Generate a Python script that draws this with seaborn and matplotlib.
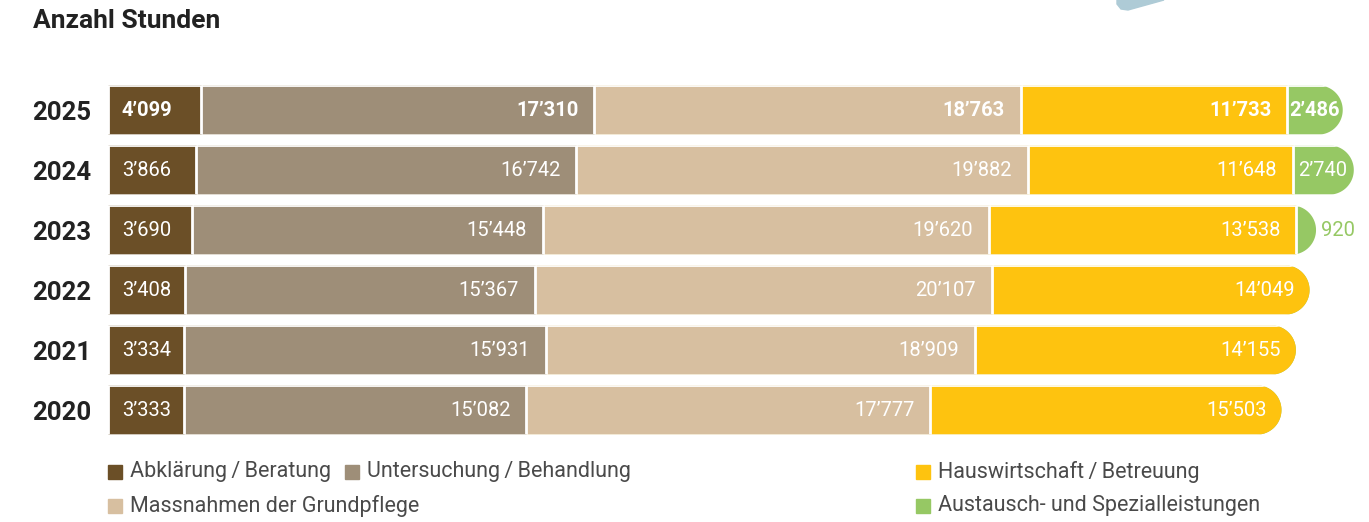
import numpy as np
import pandas as pd
import matplotlib
matplotlib.use("Agg")
import matplotlib.pyplot as plt
from matplotlib.patches import Polygon, Rectangle
import seaborn as sns

# data
years = ["2025", "2024", "2023", "2022", "2021", "2020"]
abklaerung = [4099, 3866, 3690, 3408, 3334, 3333]
untersuchung = [17310, 16742, 15448, 15367, 15931, 15082]
grundpflege = [18763, 19882, 19620, 20107, 18909, 17777]
hauswirtschaft = [11733, 11648, 13538, 14049, 14155, 15503]
austausch = [2486, 2740, 920, 0, 0, 0]
categories = ["Abklärung\u2009/\u2009Beratung", "Untersuchung\u2009/\u2009Behandlung",
              "Massnahmen der Grundpflege", "Hauswirtschaft\u2009/\u2009Betreuung",
              "Austausch- und Spezialleistungen"]
colors = ["#6b4f27", "#9e8e78", "#d7bfa0", "#fec30f", "#96c864"]

sns.set_theme(style="white")
plt.rcParams["font.family"] = ["Roboto", "DejaVu Sans"]

W, H = 1369, 522
AX_RIGHT = 1355
fig = plt.figure(figsize=(W / 100, H / 100), dpi=100)
ax = fig.add_axes([108 / W, (H - 440) / H, (AX_RIGHT - 108) / W, 360 / H])

segs = np.array([abklaerung, untersuchung, grundpflege, hauswirtschaft, austausch])
cum = segs.cumsum(axis=0)
xmax = cum[-1].max()

# stacked bars: draw cumulative totals from the outermost layer inwards
for k in range(len(segs) - 1, -1, -1):
    df = pd.DataFrame({"year": years, "value": cum[k]})
    sns.barplot(data=df, x="value", y="year", order=years, orient="h",
                color=colors[k], saturation=1, width=0.82,
                edgecolor="white", linewidth=2, ax=ax)

ax.set_xlim(0, xmax)
ax.set_ylim(5.5, -0.5)

# rounded right end of every bar via clip path
px = xmax / (AX_RIGHT - 108)          # data units per pixel
h = 0.41
r_x = 24.5 * px
t = np.linspace(-np.pi / 2, np.pi / 2, 40)
clips = []
for i in range(len(years)):
    total = cum[-1][i]
    cx = total - r_x - 1.2 * px
    pts = [(-xmax, i - h), (cx, i - h)]
    pts += list(zip(cx + r_x * np.cos(t), i + h * np.sin(t)))
    pts += [(-xmax, i + h)]
    clips.append(Polygon(pts, closed=True, transform=ax.transData))
for p in ax.patches:
    row = int(round(p.get_y() + p.get_height() / 2))
    p.set_clip_path(clips[row])

# value labels
def fmt(v):
    return f"{v:,}".replace(",", "\u2019")

for i in range(len(years)):
    weight = "bold" if i == 0 else "normal"
    nonzero = [k for k in range(len(segs)) if segs[k][i] > 0]
    last = nonzero[-1]
    for k in nonzero:
        v = segs[k][i]
        right = cum[k][i]
        left = right - v
        kw = dict(va="center", fontsize=14.5, fontweight=weight, color="white",
                  textcoords="offset points", annotation_clip=False)
        if k == 0:
            ax.annotate(fmt(v), xy=(left, i), xytext=(10, 0), ha="left", **kw)
        elif k == last and k == 4:
            if v / px > 45:
                ax.annotate(fmt(v), xy=((left + right) / 2, i), xytext=(-1, 0),
                            ha="center", **kw)
            else:
                kw["color"] = colors[k]
                ax.annotate(fmt(v), xy=(right, i), xytext=(3, 0), ha="left", **kw)
        else:
            ax.annotate(fmt(v), xy=(right, i), xytext=(-11.5, 0), ha="right", **kw)

ax.set_xlabel("")
ax.set_ylabel("")
ax.set_xticks([])
ax.tick_params(axis="y", length=0, pad=12)
for lab in ax.get_yticklabels():
    lab.set_fontsize(18.5)
    lab.set_fontweight("bold")
    lab.set_color("#222222")
sns.despine(ax=ax, left=True, bottom=True)

# title
fig.text(33 / W, 1 - 21 / H, "Anzahl Stunden", fontsize=19, fontweight="bold",
         color="#222222", va="center", ha="left")

# legend laid out like the original
legend_pos = [(108, 472), (345, 472), (108, 506), (916, 472), (916, 506)]
for (lx, ly), name, c in zip(legend_pos, categories, colors):
    fig.patches.append(Rectangle((lx / W, 1 - (ly + 7) / H), 14 / W, 14 / H,
                                 transform=fig.transFigure, color=c))
    fig.text((lx + 22) / W, 1 - ly / H, name, fontsize=15.5, color="#4a4a4a",
             va="center", ha="left")

# light blue decoration cut off at the top
deco = [(1117, 0), (1117, 4), (1121, 9), (1128, 10), (1164, 0)]
fig.patches.append(Polygon([(x / W, 1 - y / H) for x, y in deco], closed=True,
                           transform=fig.transFigure, color="#aecbd6"))

fig.savefig("out.png", dpi=100)
